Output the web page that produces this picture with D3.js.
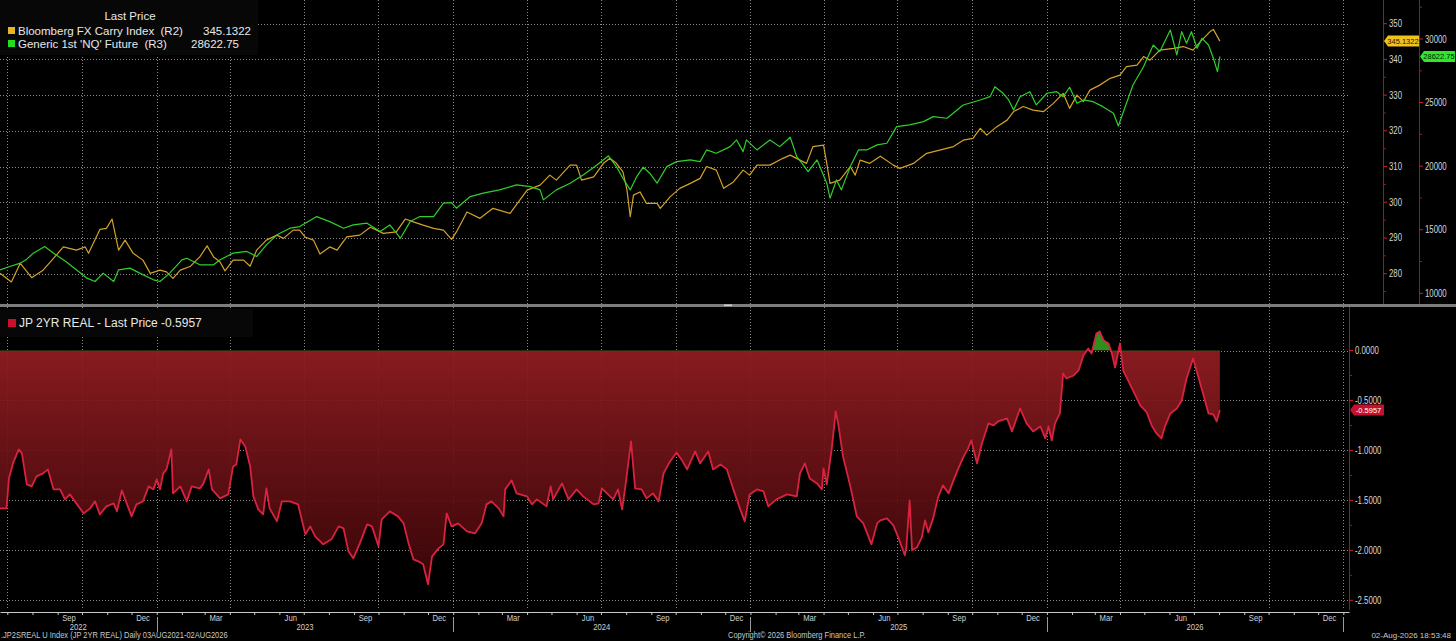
<!DOCTYPE html>
<html>
<head>
<meta charset="utf-8">
<script src="https://cdn.jsdelivr.net/npm/d3@7"></script>
<style>
html, body { margin: 0; padding: 0; background: #000; overflow: hidden; }
</style>
</head>
<body>
<div id="chart"></div>
<script>
// Bloomberg FX Carry Index (R2)
var carryDates = ["2022-06-22","2022-07-06","2022-07-17","2022-07-31","2022-08-14","2022-08-25","2022-09-08","2022-09-24","2022-10-05","2022-10-09","2022-10-23","2022-10-31","2022-11-07","2022-11-15","2022-11-23","2022-12-03","2022-12-15","2022-12-24","2023-01-05","2023-01-13","2023-01-21","2023-01-30","2023-02-11","2023-02-23","2023-03-04","2023-03-12","2023-03-20","2023-03-26","2023-04-05","2023-04-18","2023-04-26","2023-05-04","2023-05-16","2023-05-29","2023-06-06","2023-06-18","2023-06-26","2023-07-03","2023-07-13","2023-07-21","2023-08-02","2023-08-11","2023-08-23","2023-09-08","2023-09-21","2023-10-07","2023-10-23","2023-11-03","2023-11-13","2023-11-25","2023-12-08","2023-12-20","2023-12-30","2024-01-05","2024-01-18","2024-02-03","2024-02-19","2024-03-11","2024-04-01","2024-04-17","2024-04-29","2024-05-07","2024-05-24","2024-06-01","2024-06-07","2024-06-22","2024-07-04","2024-07-12","2024-07-20","2024-07-28","2024-08-02","2024-08-06","2024-08-10","2024-08-18","2024-08-26","2024-09-08","2024-09-12","2024-09-24","2024-10-06","2024-10-19","2024-10-31","2024-11-08","2024-11-20","2024-11-29","2024-12-11","2024-12-23","2024-12-31","2025-01-09","2025-01-25","2025-02-10","2025-02-19","2025-03-03","2025-03-11","2025-03-19","2025-04-01","2025-04-05","2025-04-09","2025-04-21","2025-05-04","2025-05-10","2025-05-16","2025-05-28","2025-06-10","2025-06-26","2025-07-04","2025-07-21","2025-08-06","2025-08-22","2025-09-08","2025-09-20","2025-10-02","2025-10-11","2025-10-19","2025-10-31","2025-11-13","2025-11-21","2025-12-03","2025-12-15","2025-12-28","2026-01-09","2026-01-21","2026-01-29","2026-02-07","2026-02-15","2026-02-23","2026-03-07","2026-03-20","2026-04-01","2026-04-09","2026-04-22","2026-04-30","2026-05-08","2026-05-20","2026-06-06","2026-06-18","2026-06-30","2026-07-09","2026-07-21","2026-07-25","2026-08-02"];
var carryValues = [280.1,277.7,282.9,278.9,281.0,283.8,287.5,286.6,287.5,285.7,292.4,292.7,295.3,286.6,289.4,285.7,283.8,280.1,281.0,280.5,278.7,281.0,282.0,284.7,287.8,284.7,283.3,280.8,283.8,283.8,282.1,286.6,289.4,290.8,289.9,292.2,292.2,290.2,289.4,285.5,287.5,286.6,290.3,290.8,293.0,291.3,291.7,295.3,294.5,293.6,292.7,292.2,289.6,291.7,297.3,295.5,298.3,296.9,303.4,304.8,307.6,306.2,310.4,310.4,306.2,307.1,310.9,312.3,310.9,308.5,303.4,296.0,302.0,302.9,299.7,299.7,298.3,301.5,303.9,305.3,306.7,310.0,309.0,303.9,305.7,309.0,307.6,310.4,310.4,312.3,313.2,311.8,310.9,315.6,316.0,310.9,305.3,306.2,310.0,307.6,311.8,310.9,312.9,310.4,309.5,310.9,313.7,314.6,315.6,317.4,317.9,320.7,318.8,321.1,323.0,325.4,326.8,325.8,325.4,327.7,330.5,326.3,330.0,328.2,331.4,332.8,334.7,335.6,338.0,338.4,340.8,339.8,342.6,343.1,343.6,342.6,345.0,347.8,348.4,345.1322];

// Generic 1st 'NQ' Future (R3)
var nqDates = ["2022-06-22","2022-07-04","2022-07-17","2022-07-24","2022-08-02","2022-08-16","2022-08-27","2022-09-11","2022-09-24","2022-10-07","2022-10-17","2022-10-27","2022-11-09","2022-11-15","2022-11-29","2022-12-11","2022-12-28","2023-01-05","2023-01-17","2023-02-01","2023-02-07","2023-02-23","2023-03-12","2023-03-20","2023-04-05","2023-04-22","2023-05-04","2023-05-16","2023-05-29","2023-06-14","2023-06-26","2023-07-17","2023-08-02","2023-08-19","2023-08-31","2023-09-17","2023-10-03","2023-10-15","2023-10-28","2023-11-09","2023-11-21","2023-12-08","2023-12-20","2023-12-30","2024-01-05","2024-01-22","2024-02-07","2024-02-27","2024-03-19","2024-04-05","2024-04-17","2024-04-21","2024-05-07","2024-05-24","2024-06-09","2024-06-26","2024-07-10","2024-07-20","2024-07-28","2024-08-06","2024-08-14","2024-08-22","2024-08-30","2024-09-08","2024-09-20","2024-10-02","2024-10-19","2024-10-31","2024-11-08","2024-11-20","2024-12-07","2024-12-15","2024-12-23","2024-12-27","2025-01-09","2025-01-25","2025-02-06","2025-02-19","2025-02-27","2025-03-07","2025-03-13","2025-03-24","2025-03-30","2025-04-05","2025-04-09","2025-04-17","2025-04-23","2025-05-04","2025-05-14","2025-05-24","2025-06-06","2025-06-18","2025-06-30","2025-07-16","2025-08-02","2025-08-14","2025-08-31","2025-09-20","2025-10-11","2025-10-23","2025-10-29","2025-11-08","2025-11-15","2025-11-21","2025-11-29","2025-12-11","2025-12-19","2026-01-01","2026-01-13","2026-01-21","2026-01-29","2026-02-07","2026-02-15","2026-02-27","2026-03-11","2026-03-24","2026-03-30","2026-04-09","2026-04-17","2026-04-30","2026-05-12","2026-05-20","2026-06-02","2026-06-10","2026-06-16","2026-06-22","2026-06-28","2026-07-05","2026-07-11","2026-07-19","2026-07-25","2026-07-30","2026-08-02"];
var nqValues = [11845,12105,12370,12632,13158,13680,13158,12500,11845,11190,10925,11585,10925,11845,11980,11585,11060,10925,11585,12632,12760,12240,12240,12632,13158,13290,12890,13810,14600,15120,15250,16034,15640,15120,15380,15515,14855,15380,14335,15640,16034,16034,17087,17135,16695,17607,17873,18133,18526,18392,18133,17347,18133,18660,19311,20097,20805,19964,19052,18133,19178,19917,19445,18660,19964,20357,20490,20357,21276,21017,21536,22062,21143,22062,21276,22062,21536,22274,20753,20097,19573,20490,19573,18660,17480,18919,18133,19964,21276,21276,21670,21800,23108,23240,23500,23893,23766,24813,25206,25465,26251,25732,25206,24420,25465,25858,24813,25732,25858,25465,26204,24947,25206,25072,24680,24160,23163,24947,26385,27823,29528,29002,30707,28743,30574,29662,30574,29269,30055,29528,28483,27430,28622.75];

// JP 2YR REAL
var jpDates = ["2022-06-22","2022-06-30","2022-07-03","2022-07-08","2022-07-15","2022-07-19","2022-07-25","2022-07-31","2022-08-06","2022-08-14","2022-08-20","2022-08-27","2022-09-04","2022-09-10","2022-09-16","2022-09-24","2022-10-03","2022-10-11","2022-10-17","2022-10-23","2022-10-31","2022-11-09","2022-11-13","2022-11-19","2022-11-25","2022-12-01","2022-12-07","2022-12-15","2022-12-22","2022-12-28","2023-01-01","2023-01-05","2023-01-09","2023-01-13","2023-01-19","2023-01-21","2023-01-30","2023-02-07","2023-02-13","2023-02-23","2023-02-27","2023-03-06","2023-03-10","2023-03-20","2023-03-30","2023-04-05","2023-04-09","2023-04-14","2023-04-20","2023-04-26","2023-04-30","2023-05-06","2023-05-12","2023-05-16","2023-05-20","2023-05-29","2023-06-04","2023-06-14","2023-06-24","2023-07-03","2023-07-09","2023-07-15","2023-07-25","2023-08-04","2023-08-13","2023-08-19","2023-08-25","2023-08-31","2023-09-08","2023-09-17","2023-09-23","2023-10-01","2023-10-05","2023-10-15","2023-10-25","2023-11-01","2023-11-07","2023-11-13","2023-11-19","2023-11-25","2023-12-01","2023-12-06","2023-12-14","2023-12-20","2023-12-24","2023-12-30","2024-01-07","2024-01-18","2024-01-28","2024-02-05","2024-02-11","2024-02-17","2024-02-26","2024-03-03","2024-03-05","2024-03-13","2024-03-19","2024-04-01","2024-04-07","2024-04-13","2024-04-25","2024-04-30","2024-05-03","2024-05-14","2024-05-22","2024-06-01","2024-06-09","2024-06-22","2024-06-28","2024-07-02","2024-07-16","2024-07-22","2024-07-27","2024-07-31","2024-08-07","2024-08-12","2024-08-20","2024-08-26","2024-09-03","2024-09-10","2024-09-16","2024-09-24","2024-10-02","2024-10-08","2024-10-15","2024-10-25","2024-10-31","2024-11-10","2024-11-16","2024-11-25","2024-12-03","2024-12-11","2024-12-19","2024-12-25","2024-12-31","2025-01-09","2025-01-17","2025-01-23","2025-02-02","2025-02-15","2025-02-27","2025-03-03","2025-03-09","2025-03-15","2025-03-24","2025-03-30","2025-04-01","2025-04-05","2025-04-11","2025-04-16","2025-04-19","2025-04-25","2025-05-04","2025-05-12","2025-05-20","2025-05-30","2025-06-06","2025-06-10","2025-06-18","2025-06-26","2025-07-02","2025-07-08","2025-07-10","2025-07-12","2025-07-16","2025-07-19","2025-07-25","2025-07-31","2025-08-04","2025-08-08","2025-08-14","2025-08-20","2025-08-26","2025-09-02","2025-09-08","2025-09-14","2025-09-20","2025-09-26","2025-09-30","2025-10-07","2025-10-13","2025-10-21","2025-10-27","2025-11-02","2025-11-13","2025-11-19","2025-11-29","2025-12-07","2025-12-15","2025-12-24","2025-12-30","2026-01-03","2026-01-07","2026-01-11","2026-01-17","2026-01-21","2026-01-25","2026-02-03","2026-02-09","2026-02-15","2026-02-21","2026-02-25","2026-03-03","2026-03-07","2026-03-12","2026-03-18","2026-03-22","2026-03-26","2026-04-01","2026-04-05","2026-04-11","2026-04-17","2026-04-26","2026-05-04","2026-05-10","2026-05-16","2026-05-22","2026-05-26","2026-06-02","2026-06-10","2026-06-16","2026-06-22","2026-06-30","2026-07-06","2026-07-13","2026-07-19","2026-07-25","2026-07-29","2026-08-02"];
var jpValues = [-1.58,-1.58,-1.28,-1.13,-0.99,-1.03,-1.34,-1.36,-1.26,-1.23,-1.19,-1.39,-1.39,-1.49,-1.44,-1.53,-1.63,-1.58,-1.51,-1.64,-1.56,-1.53,-1.61,-1.40,-1.53,-1.66,-1.54,-1.51,-1.36,-1.39,-1.29,-1.39,-1.23,-1.19,-0.99,-1.43,-1.36,-1.51,-1.36,-1.38,-1.34,-1.19,-1.39,-1.48,-1.44,-1.16,-1.14,-0.89,-0.96,-1.16,-1.46,-1.59,-1.64,-1.38,-1.58,-1.71,-1.51,-1.51,-1.54,-1.84,-1.76,-1.86,-1.94,-1.89,-1.76,-1.78,-2.01,-2.08,-1.93,-1.74,-1.76,-1.96,-1.69,-1.61,-1.66,-1.73,-1.93,-2.09,-2.11,-2.14,-2.34,-2.06,-1.98,-1.94,-1.63,-1.76,-1.73,-1.81,-1.83,-1.73,-1.54,-1.51,-1.58,-1.66,-1.39,-1.30,-1.43,-1.46,-1.54,-1.49,-1.56,-1.36,-1.49,-1.33,-1.49,-1.39,-1.46,-1.54,-1.53,-1.38,-1.49,-1.39,-1.59,-1.36,-0.91,-1.38,-1.39,-1.48,-1.43,-1.51,-1.23,-1.11,-1.02,-1.09,-1.19,-1.01,-1.13,-1.01,-1.19,-1.14,-1.19,-1.39,-1.58,-1.71,-1.44,-1.39,-1.41,-1.56,-1.49,-1.44,-1.46,-1.23,-1.13,-1.28,-1.33,-1.39,-1.18,-1.34,-0.99,-0.61,-0.73,-1.06,-1.36,-1.66,-1.73,-1.94,-1.73,-1.70,-1.68,-1.75,-1.87,-2.00,-2.05,-1.97,-1.50,-2.00,-1.97,-1.87,-1.70,-1.82,-1.68,-1.47,-1.35,-1.43,-1.30,-1.18,-1.07,-0.98,-0.90,-1.13,-0.93,-0.73,-0.75,-0.71,-0.68,-0.81,-0.58,-0.73,-0.81,-0.76,-0.88,-0.76,-0.90,-0.73,-0.63,-0.23,-0.28,-0.25,-0.20,-0.05,0.02,-0.03,0.17,0.19,0.10,0.07,-0.03,-0.17,0.07,-0.20,-0.30,-0.40,-0.55,-0.62,-0.75,-0.83,-0.88,-0.77,-0.63,-0.58,-0.50,-0.28,-0.08,-0.25,-0.45,-0.63,-0.64,-0.71,-0.5957];

// axis ticks
var carryTicks = [280, 290, 300, 310, 320, 330, 340, 350];
var carryMinor = [275, 285, 295, 305, 315, 325, 335, 345];
var nqTicks = [10000, 15000, 20000, 25000, 30000];
var nqMinor = [12500, 17500, 22500, 27500, 32500];
var jpTicks = [0, -0.5, -1, -1.5, -2, -2.5];
var jpMinor = [-0.25, -0.75, -1.25, -1.75, -2.25];
var labelMonths = ["Mar", "Jun", "Sep", "Dec"];
var years = [2022, 2023, 2024, 2025, 2026];

var width = 1456, height = 641,
    plotRight = 1349,
    topY0 = 0, topY1 = 304,
    botY0 = 307, botY1 = 608,
    axisY = 612;

var parse = d3.timeParse("%Y-%m-%d");
var carry = carryDates.map((d, i) => ({date: parse(d), v: carryValues[i]}));
var nq = nqDates.map((d, i) => ({date: parse(d), v: nqValues[i]}));
var jp = jpDates.map((d, i) => ({date: parse(d), v: jpValues[i]}));

var fmt = d3.formatLocale({decimal: ".", thousands: ",", grouping: [3], currency: ["", ""], minus: "-"});

var x = d3.scaleTime()
    .domain([parse("2022-06-22"), parse("2027-01-08")])
    .range([0, plotRight]);
var yCarry = d3.scaleLinear().domain([280, 350]).range([273.7, 23.7]);
var yNq = d3.scaleLinear().domain([10000, 30000]).range([293.3, 39]);
var yJp = d3.scaleLinear().domain([-2.5, 0]).range([600.3, 350.5]);

var numFont = "'Liberation Sans',Arial,sans-serif";
var txtFont = "'Liberation Sans',Arial,sans-serif";

// squeeze text horizontally, Bloomberg uses a narrow face
function narrow(sel, f) {
    sel.each(function() {
        d3.select(this)
            .attr("textLength", this.getComputedTextLength() * f)
            .attr("lengthAdjust", "spacingAndGlyphs");
    });
}

var svg = d3.select("#chart")
    .append("svg")
        .attr("width", width)
        .attr("height", height)
        .style("display", "block");

svg.append("rect").attr("width", width).attr("height", height).attr("fill", "#000");

var defs = svg.append("defs");
defs.append("clipPath").attr("id", "clipTop")
    .append("rect").attr("x", 0).attr("y", topY0).attr("width", plotRight).attr("height", topY1 - topY0);
defs.append("clipPath").attr("id", "clipBelow")
    .append("rect").attr("x", 0).attr("y", yJp(0)).attr("width", plotRight).attr("height", botY1 - yJp(0));
defs.append("clipPath").attr("id", "clipAbove")
    .append("rect").attr("x", 0).attr("y", botY0).attr("width", plotRight).attr("height", yJp(0) - botY0);

var grad = defs.append("linearGradient")
    .attr("id", "jpFill")
    .attr("gradientUnits", "userSpaceOnUse")
    .attr("x1", 0).attr("x2", 0)
    .attr("y1", yJp(0)).attr("y2", yJp(-2.4));
grad.append("stop").attr("offset", 0).attr("stop-color", "#921d22");
grad.append("stop").attr("offset", 1).attr("stop-color", "#3a0508");

var quarters = x.ticks(d3.timeMonth.every(3));

// gridlines
var grid = svg.append("g")
    .attr("stroke", "#8a8a8a")
    .attr("stroke-width", 1)
    .attr("stroke-dasharray", "1,2");

grid.selectAll(".hTop")
    .data(carryTicks)
    .join("line")
        .attr("x1", 0).attr("x2", plotRight)
        .attr("y1", d => Math.round(yCarry(d)) + 0.5)
        .attr("y2", d => Math.round(yCarry(d)) + 0.5);

grid.selectAll(".hBot")
    .data(jpTicks)
    .join("line")
        .attr("x1", 0).attr("x2", plotRight)
        .attr("y1", d => Math.round(yJp(d)) + 0.5)
        .attr("y2", d => Math.round(yJp(d)) + 0.5);

grid.selectAll(".vTop")
    .data(quarters)
    .join("line")
        .attr("x1", d => Math.round(x(d)) + 0.5)
        .attr("x2", d => Math.round(x(d)) + 0.5)
        .attr("y1", topY0).attr("y2", topY1);

grid.selectAll(".vBot")
    .data(quarters)
    .join("line")
        .attr("x1", d => Math.round(x(d)) + 0.5)
        .attr("x2", d => Math.round(x(d)) + 0.5)
        .attr("y1", botY0).attr("y2", botY1);

// top panel lines
var topG = svg.append("g").attr("clip-path", "url(#clipTop)");

topG.append("path")
    .datum(carry)
    .attr("fill", "none")
    .attr("stroke", "#d2a229")
    .attr("stroke-width", 1.2)
    .attr("stroke-linejoin", "round")
    .attr("d", d3.line().x(d => x(d.date)).y(d => yCarry(d.v)));

topG.append("path")
    .datum(nq)
    .attr("fill", "none")
    .attr("stroke", "#2fd02a")
    .attr("stroke-width", 1.2)
    .attr("stroke-linejoin", "round")
    .attr("d", d3.line().x(d => x(d.date)).y(d => yNq(d.v)));

// bottom panel area, red below zero and green above
var jpArea = d3.area()
    .x(d => x(d.date))
    .y0(yJp(0))
    .y1(d => yJp(d.v));

svg.append("path")
    .datum(jp)
    .attr("clip-path", "url(#clipBelow)")
    .attr("fill", "url(#jpFill)")
    .attr("fill-opacity", 0.93)
    .attr("d", jpArea);

svg.append("path")
    .datum(jp)
    .attr("clip-path", "url(#clipAbove)")
    .attr("fill", "#2f8f1e")
    .attr("d", jpArea);

svg.append("path")
    .datum(jp)
    .attr("fill", "none")
    .attr("stroke", "#d9223f")
    .attr("stroke-width", 1.8)
    .attr("stroke-linejoin", "round")
    .attr("d", d3.line().x(d => x(d.date)).y(d => yJp(d.v)));

// panel divider
svg.append("rect")
    .attr("x", 0).attr("y", topY1)
    .attr("width", width).attr("height", botY0 - topY1)
    .attr("fill", "#7d7d7d");
svg.append("rect")
    .attr("x", 724).attr("y", 304.5)
    .attr("width", 8).attr("height", 1.5)
    .attr("fill", "#d0d0d0");

// right axes
function rightAxis(xPos, scale, major, minor, y0, y1, format) {
    var g = svg.append("g").attr("transform", "translate(" + xPos + ",0)");
    g.append("line")
        .attr("x1", 0.5).attr("x2", 0.5)
        .attr("y1", y0).attr("y2", y1)
        .attr("stroke", "#a0141e");
    g.selectAll(".minor")
        .data(minor)
        .join("line")
            .attr("x1", 0).attr("x2", 3)
            .attr("y1", d => scale(d)).attr("y2", d => scale(d))
            .attr("stroke", "#a0141e");
    var t = g.selectAll(".major")
        .data(major)
        .join("g")
            .attr("transform", d => "translate(0," + scale(d) + ")");
    t.append("line")
        .attr("x1", 0).attr("x2", 4)
        .attr("stroke", "#d01a2a");
    t.append("text")
        .attr("x", 6)
        .attr("dy", "0.35em")
        .attr("fill", "#d6d6d6")
        .attr("font-family", numFont)
        .attr("font-size", 10)
        .text(format)
        .call(narrow, 0.78);
    return g;
}

rightAxis(1383, yCarry, carryTicks, carryMinor, topY0, topY1, d => d);
rightAxis(1419, yNq, nqTicks, nqMinor.filter(d => yNq(d) > 0), topY0, topY1, d => d);
rightAxis(1349, yJp, jpTicks, jpMinor, botY0, 610, d => fmt.format(".4f")(d));

// last value tags
function tag(x0, x1, yc, fill, color, label) {
    var g = svg.append("g");
    g.append("path")
        .attr("d", "M" + x0 + "," + yc + "L" + (x0 + 4) + "," + (yc - 5.5) + "L" + x1 + "," + (yc - 5.5) +
            "L" + x1 + "," + (yc + 5.5) + "L" + (x0 + 4) + "," + (yc + 5.5) + "Z")
        .attr("fill", fill);
    g.append("text")
        .attr("x", (x0 + 3 + x1) / 2)
        .attr("y", yc)
        .attr("dy", "0.35em")
        .attr("text-anchor", "middle")
        .attr("fill", color)
        .attr("font-family", numFont)
        .attr("font-size", 7.5)
        .text(label);
}

var lastCarry = carryValues[carryValues.length - 1],
    lastNq = nqValues[nqValues.length - 1],
    lastJp = jpValues[jpValues.length - 1];

tag(1384, 1419, yCarry(lastCarry), "#f2c21c", "#1a1200", fmt.format(".4f")(lastCarry));
tag(1420, 1455, yNq(lastNq), "#2ee62a", "#062006", fmt.format(".2f")(lastNq));
tag(1350, 1384, yJp(lastJp), "#c8102e", "#ffffff", fmt.format(".4f")(lastJp));

// legends
var leg = svg.append("g")
    .attr("font-family", txtFont)
    .attr("font-size", 11.5)
    .attr("fill", "#e8e8e8");

leg.append("rect").attr("x", 0).attr("y", 0).attr("width", 258).attr("height", 55).attr("fill", "#070707");
leg.append("text").attr("x", 130).attr("y", 20).attr("text-anchor", "middle").text("Last Price");

leg.append("rect").attr("x", 8).attr("y", 27).attr("width", 7).attr("height", 7).attr("fill", "#e8b424");
leg.append("text").attr("x", 18).attr("y", 34.5).style("white-space", "pre").text("Bloomberg FX Carry Index  (R2)");
leg.append("text").attr("x", 251).attr("y", 34.5).attr("text-anchor", "end").text(fmt.format(".4f")(lastCarry));

leg.append("rect").attr("x", 8).attr("y", 40).attr("width", 7).attr("height", 7).attr("fill", "#22dd22");
leg.append("text").attr("x", 18).attr("y", 47.5).style("white-space", "pre").text("Generic 1st 'NQ' Future  (R3)");
leg.append("text").attr("x", 239).attr("y", 47.5).attr("text-anchor", "end").text(fmt.format(".2f")(lastNq));

leg.append("rect").attr("x", 0).attr("y", 309).attr("width", 253).attr("height", 28).attr("fill", "#070707");
leg.append("rect").attr("x", 8).attr("y", 319).attr("width", 8).attr("height", 8).attr("fill", "#c8102e");
leg.append("text").attr("x", 19).attr("y", 327).attr("font-size", 12)
    .text("JP 2YR REAL - Last Price " + fmt.format(".4f")(lastJp));

// bottom time axis
var xAxis = svg.append("g")
    .attr("transform", "translate(0," + axisY + ")")
    .call(d3.axisBottom(x)
        .ticks(d3.timeMonth.every(1))
        .tickSize(3)
        .tickSizeOuter(0)
        .tickFormat(""));
xAxis.select(".domain").attr("stroke", "#c8c8c8");
xAxis.selectAll(".tick line").attr("stroke", "#c8c8c8");

var months = d3.timeMonths(x.domain()[0], x.domain()[1])
    .filter(d => d.getMonth() % 3 === 2)
    .map(d => new Date(d.getFullYear(), d.getMonth(), 15));

var axisText = svg.append("g")
    .attr("font-family", numFont)
    .attr("font-size", 8.5)
    .attr("fill", "#d0d0d0")
    .attr("text-anchor", "middle");

axisText.selectAll(".m")
    .data(months)
    .join("text")
        .attr("x", d => x(d))
        .attr("y", 621)
        .text(d => labelMonths[Math.floor(d.getMonth() / 3)])
        .call(narrow, 0.9);

axisText.selectAll(".yr")
    .data(years)
    .join("text")
        .attr("x", d => {
            var a = Math.max(x(new Date(d, 0, 1)), 0);
            var b = x(new Date(d + 1, 0, 1));
            return (a + b) / 2;
        })
        .attr("y", 630)
        .text(d => d)
        .call(narrow, 0.9);

svg.append("g")
    .attr("stroke", "#9a9a9a")
    .selectAll("line")
    .data(years.map(d => new Date(d + 1, 0, 1)))
    .join("line")
        .attr("x1", d => Math.round(x(d)) + 0.5)
        .attr("x2", d => Math.round(x(d)) + 0.5)
        .attr("y1", 617).attr("y2", 632);

// footer
var foot = svg.append("g")
    .attr("font-family", numFont)
    .attr("font-size", 8.5)
    .attr("fill", "#c8c8c8");
foot.append("text").attr("x", 1).attr("y", 638)
    .text(".JP2SREAL U Index (JP 2YR REAL) Daily 03AUG2021-02AUG2026").call(narrow, 0.88);
foot.append("text").attr("x", 728).attr("y", 638)
    .text("Copyright\u00a9 2026 Bloomberg Finance L.P.").call(narrow, 0.88);
foot.append("text").attr("x", 1451).attr("y", 638).attr("text-anchor", "end")
    .attr("font-size", 8)
    .text("02-Aug-2026 18:53:48");
</script>
</body>
</html>
